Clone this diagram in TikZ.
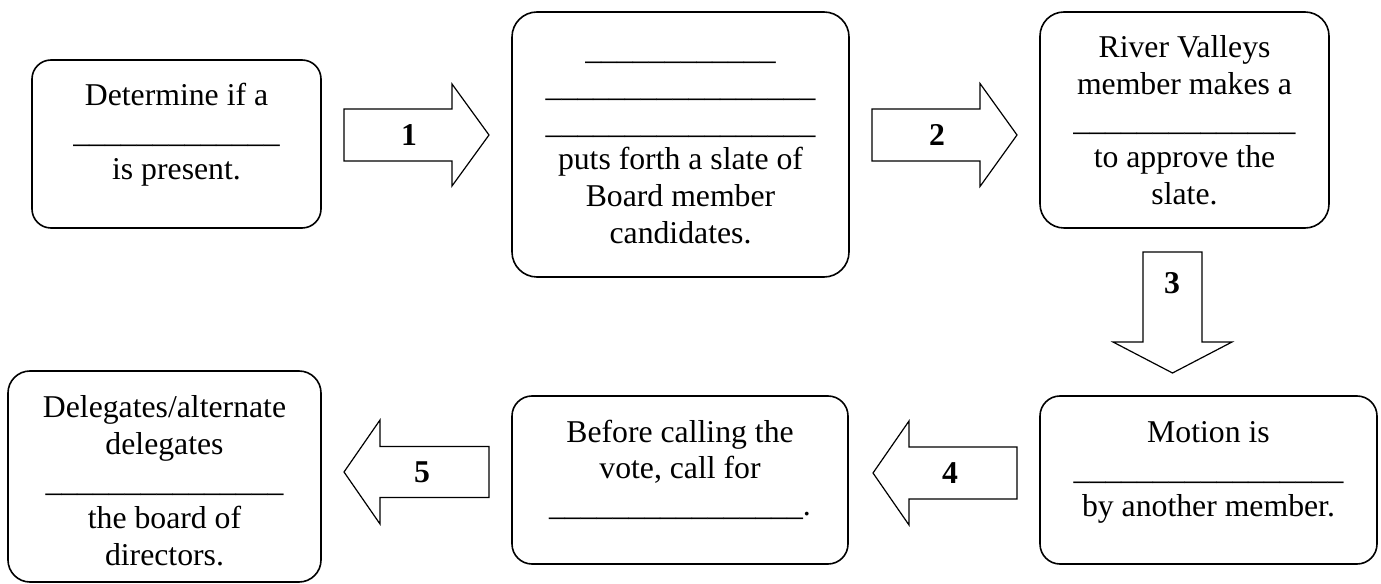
\documentclass[tikz,border=0pt]{standalone}
\usepackage{fontspec}
\setmainfont{Liberation Serif}
% a run of #1 underscores, used for the fill-in blanks
\newcommand\blank[1]{\ifnum#1>0 \_\blank{\numexpr#1-1\relax}\fi}
\tikzset{
  box/.style={draw, line width=1.2pt, rounded corners=#1, inner sep=0pt, outer sep=0pt},
  box/.default=15pt,
  txt/.style={font=\fontsize{23.8pt}{27.6pt}\selectfont, align=center, inner sep=0pt},
  num/.style={font=\fontsize{23.8pt}{27.6pt}\selectfont\bfseries, inner sep=0pt},
  arrowline/.style={draw, line width=0.9pt, line join=miter},
  % block arrow pointing along local +x, tail at the origin:
  % total length / shaft half-width / head half-width / head length
  pics/barrow/.style args={#1/#2/#3/#4}{code={
    \path[arrowline] (0,-#2) -- ({#1-#4},-#2) -- ({#1-#4},-#3) -- (#1,0)
      -- ({#1-#4},#3) -- ({#1-#4},#2) -- (0,#2) -- cycle;}}
}
\begin{document}
\begin{tikzpicture}[x=0.75pt, y=-0.75pt]
\useasboundingbox (0,0) rectangle (1381,584);

% step boxes
\node[box=14.25pt, minimum width=216.75pt, minimum height=126pt] (A) at (176.5,144) {};
\node[box=18.75pt, minimum width=252.75pt, minimum height=198.75pt] (B) at (680.5,144.5) {};
\node[box=18pt, minimum width=216.75pt, minimum height=162pt] (C) at (1184.5,120) {};
\node[box=15pt, minimum width=252.75pt, minimum height=126pt] (D) at (1208.5,480) {};
\node[box=15pt, minimum width=252pt, minimum height=126pt] (E) at (680,480) {};
\node[box=16.5pt, minimum width=234.75pt, minimum height=158.25pt] (F) at (164.5,476.5) {};

% box texts
\node[txt] (At) at (176.5,135.1) {\strut Determine if a\\ \blank{13}\\ is present.\strut};
\node[txt] (Bt) at (680.5,144.1) {\strut\blank{12}\\ \blank{17}\\ \blank{17}\\ puts forth a slate of\\ Board member\\ candidates.\strut};
\node[txt] (Ct) at (1184.5,123.6) {\strut River Valleys\\ member makes a\\ \blank{14}\\ to approve the\\ slate.\strut};
\node[txt] (Dt) at (1208.5,472.1) {\strut Motion is\\ \blank{17}\\ by another member.\strut};
\node[txt] (Et) at (680,471.6) {\strut Before calling the\\ vote, call for\\ \blank{16}.\strut};
\node[txt] (Ft) at (164.5,484.1) {\strut Delegates/alternate\\ delegates\\ \blank{15}\\ the board of\\ directors.\strut};

% numbered block arrows between the steps
\pic at (344,135) {barrow=145/26/51/37};
\pic at (872,135) {barrow=145/26/51.5/37};
\pic[rotate=-90] at (1172.5,252) {barrow=121/29.5/59.5/31};
\pic[rotate=180] at (1017,473) {barrow=144/26/52/36};
\pic[rotate=180] at (489,472) {barrow=145/25.5/52/36};

\node[num] (n1) at (409,135) {1};
\node[num] (n2) at (937,135) {2};
\node[num] (n3) at (1172,283) {3};
\node[num] (n4) at (950,473) {4};
\node[num] (n5) at (422,472) {5};
\end{tikzpicture}
\end{document}
